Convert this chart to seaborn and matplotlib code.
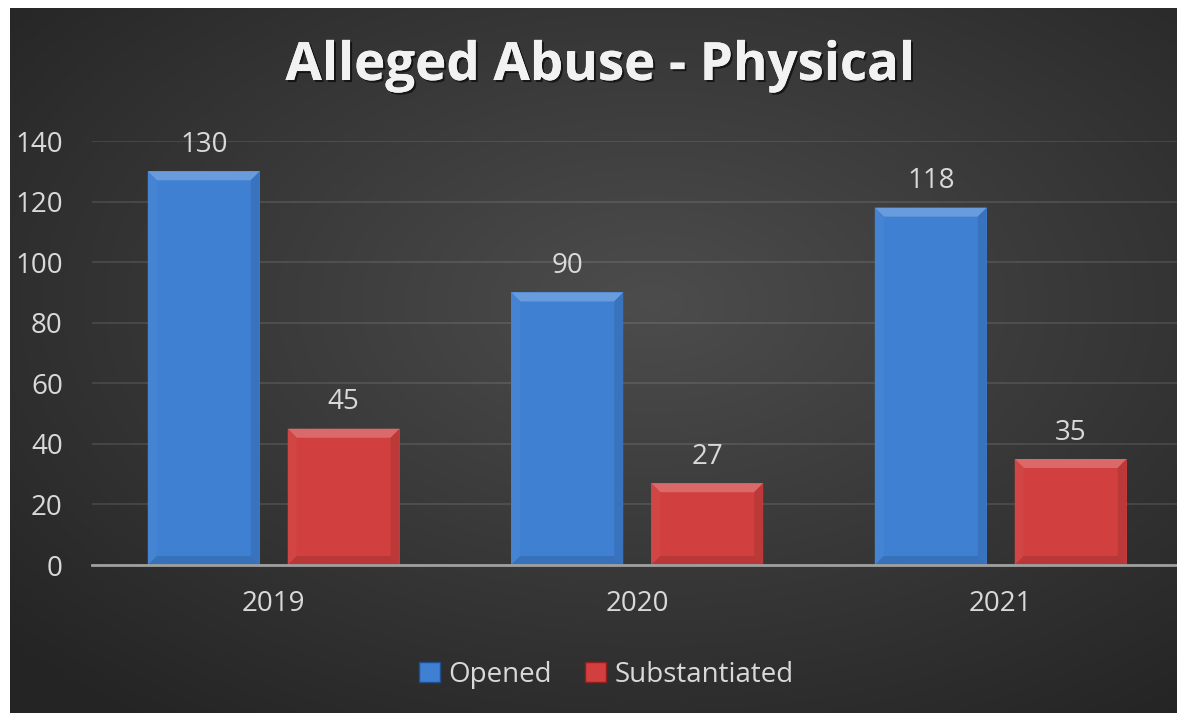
import numpy as np
import pandas as pd
import matplotlib.pyplot as plt
import seaborn as sns
from matplotlib import patheffects as pe
from matplotlib.patches import Polygon, Patch
from matplotlib.colors import to_rgb

# --- data ---
years = ["2019", "2020", "2021"]
opened = [130, 90, 118]
substantiated = [45, 27, 35]
series = ["Opened", "Substantiated"]

df = pd.DataFrame({
    "year": years * 2,
    "series": [series[0]] * 3 + [series[1]] * 3,
    "count": opened + substantiated,
})

BLUE = "#3f80d2"
RED = "#d13f3f"
TXT = "#d9d9d9"
FS = 20

sns.set_theme(style="dark")
plt.rcParams["font.family"] = ["Open Sans", "DejaVu Sans"]

W, H = 1177, 713
fig = plt.figure(figsize=(W / 100, H / 100), dpi=100, facecolor="white")

# --- background with radial gradient ---
bg = fig.add_axes([10 / W, 0, 1 - 10 / W, 1 - 8 / H])
yy, xx = np.mgrid[0:1:300j, 0:1:500j]
r = np.sqrt(((xx - 0.55) / 0.75) ** 2 + ((yy - 0.42) / 0.75) ** 2)
shade = np.clip(0.30 - 0.16 * r, 0.145, 0.30)
bg.imshow(np.dstack([shade] * 3), aspect="auto", extent=[0, 1, 0, 1])
bg.axis("off")

# --- bars ---
ax = fig.add_axes([92 / W, (H - 565) / H, 1090.5 / W, (565 - 141) / H])
ax.set_facecolor("none")
sns.barplot(data=df, x="year", y="count", hue="series", palette=[BLUE, RED],
            width=0.77, gap=0.2, ax=ax, legend=False, saturation=1,
            edgecolor="none", zorder=3)
ax.set_ylim(0, 140)
ax.set_xlim(-0.5, 2.5)
ax.set_yticks(range(0, 141, 20))
ax.set_xlabel("")
ax.set_ylabel("")

ax.yaxis.grid(True, color="white", alpha=0.12, lw=1.2, zorder=0)
ax.set_axisbelow(True)
for s in ["top", "right", "left"]:
    ax.spines[s].set_visible(False)
ax.spines["bottom"].set_color("#a0a0a0")
ax.spines["bottom"].set_linewidth(2)
ax.spines["bottom"].set_zorder(5)
ax.tick_params(axis="both", colors=TXT, labelsize=FS, length=0)
ax.tick_params(axis="y", pad=21)
ax.tick_params(axis="x", pad=18)

# bevel look on each bar
px_x = ax.bbox.width / 3.0
px_y = ax.bbox.height / 140.0
bx, by = 9 / px_x, 9 / px_y


def shift(c, f):
    c = np.array(to_rgb(c))
    if f > 0:
        return tuple(c + (1 - c) * f)
    return tuple(c * (1 + f))


for p in ax.patches:
    x0, y0 = p.get_x(), p.get_y()
    x1, y1 = x0 + p.get_width(), y0 + p.get_height()
    fc = p.get_facecolor()
    pieces = [
        ([(x0, y1), (x1, y1), (x1 - bx, y1 - by), (x0 + bx, y1 - by)], shift(fc, 0.22)),
        ([(x0, y0), (x0, y1), (x0 + bx, y1 - by), (x0 + bx, y0 + by)], shift(fc, 0.03)),
        ([(x1, y0), (x1, y1), (x1 - bx, y1 - by), (x1 - bx, y0 + by)], shift(fc, -0.10)),
        ([(x0, y0), (x1, y0), (x1 - bx, y0 + by), (x0 + bx, y0 + by)], shift(fc, -0.12)),
    ]
    for pts, col in pieces:
        ax.add_patch(Polygon(pts, closed=True, facecolor=col, edgecolor="none", zorder=4))

for cont in ax.containers:
    ax.bar_label(cont, padding=9, color=TXT, fontsize=FS)

# --- title ---
fig.text(0.51, 1 - 66 / H, "Alleged Abuse - Physical", fontsize=38,
         fontweight="bold", color="#f2f2f2", ha="center", va="center",
         path_effects=[pe.withSimplePatchShadow(offset=(1.5, -1.5),
                                                shadow_rgbFace="black", alpha=0.6),
                       pe.Normal()])

# --- legend ---
handles = [Patch(facecolor=BLUE, edgecolor="#1f4f8f"),
           Patch(facecolor=RED, edgecolor="#8f1f1f")]
leg = fig.legend(handles, series, loc="center", bbox_to_anchor=(0.515, 1 - 675 / H),
                 ncol=2, frameon=False, fontsize=FS, handlelength=0.75,
                 handleheight=0.75, handletextpad=0.3, columnspacing=1.2)
for t in leg.get_texts():
    t.set_color(TXT)

fig.savefig("out.png", dpi=100, facecolor="white")
